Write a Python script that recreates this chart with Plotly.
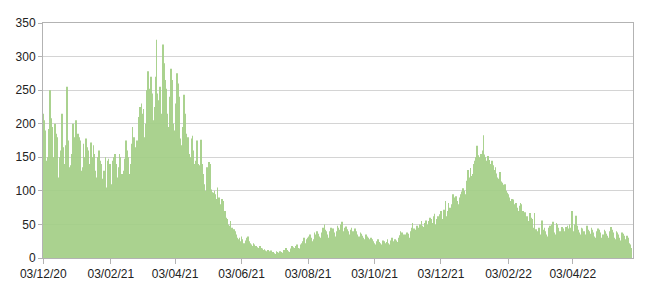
import pandas as pd
import plotly.graph_objects as go

# Daily values, one list per month
dec_2020 = [215, 205, 190, 145, 150, 192, 250, 208, 195, 140, 150, 200, 185, 180, 120, 150, 160, 215, 165, 135,
            140, 168, 255, 175, 135, 138, 155, 200, 180]
jan_2021 = [160, 205, 150, 185, 180, 175, 130, 135, 170, 150, 178, 165, 160, 120, 140, 172, 150, 168, 155, 130,
            120, 150, 160, 145, 140, 118, 100, 130, 150, 105, 145]
feb_2021 = [148, 140, 110, 105, 145, 150, 155, 140, 120, 135, 155, 150, 125, 115, 130, 148, 175, 160, 150, 125,
            140, 170, 195, 180, 165, 150, 175, 165]
mar_2021 = [210, 225, 230, 215, 222, 180, 200, 250, 278, 252, 240, 270, 245, 205, 225, 270, 325, 245, 235, 255,
            215, 200, 318, 290, 265, 252, 215, 195, 240, 282, 265]
apr_2021 = [200, 190, 175, 230, 275, 260, 240, 178, 168, 195, 243, 215, 185, 178, 180, 155, 150, 178, 182, 160,
            140, 145, 175, 140, 130, 138, 176, 140, 125, 110]
may_2021 = [100, 135, 120, 143, 140, 102, 98, 97, 100, 95, 88, 105, 90, 80, 75, 88, 85, 65, 70, 60,
            58, 50, 48, 55, 45, 42, 43, 40, 35, 30, 28]
jun_2021 = [30, 25, 32, 28, 22, 20, 26, 30, 32, 25, 22, 20, 18, 22, 20, 18, 16, 15, 13, 18,
            15, 14, 12, 13, 11, 10, 12, 9, 10, 11]
jul_2021 = [8, 9, 7, 6, 10, 9, 8, 10, 9, 8, 6, 12, 11, 15, 12, 10, 9, 14, 18, 16,
            15, 12, 18, 20, 15, 14, 20, 22, 25, 30, 20]
aug_2021 = [22, 28, 30, 32, 35, 30, 25, 28, 38, 35, 40, 36, 32, 30, 28, 38, 45, 50, 42, 40,
            35, 30, 40, 45, 42, 44, 38, 32, 40, 48, 45]
sep_2021 = [42, 50, 54, 40, 38, 45, 47, 43, 40, 35, 42, 45, 40, 38, 44, 40, 35, 30, 32, 38,
            36, 33, 30, 28, 35, 32, 30, 28, 25, 30]
oct_2021 = [28, 25, 22, 20, 25, 28, 24, 22, 18, 20, 26, 25, 22, 24, 28, 22, 20, 26, 30, 25,
            22, 28, 26, 24, 30, 34, 40, 38, 30, 35, 32]
nov_2021 = [35, 38, 36, 30, 40, 45, 52, 44, 42, 38, 48, 45, 40, 50, 55, 48, 46, 52, 56, 50,
            45, 55, 60, 58, 52, 62, 66, 50, 58, 62]
dec_2021 = [60, 65, 70, 58, 55, 72, 85, 62, 70, 82, 75, 68, 80, 95, 90, 88, 92, 85, 80, 90,
            95, 99, 104, 100, 90, 95, 115, 131, 120, 134, 122]
jan_2022 = [125, 140, 145, 150, 167, 153, 150, 140, 155, 160, 183, 154, 150, 145, 152, 146, 140, 130, 145, 138,
            131, 135, 126, 120, 118, 128, 114, 112, 109, 105, 110]
feb_2022 = [100, 97, 95, 90, 85, 88, 87, 80, 78, 82, 75, 70, 78, 82, 80, 70, 65, 68, 60, 62,
            55, 50, 67, 60, 58, 45, 67, 43]
mar_2022 = [40, 38, 45, 35, 30, 56, 42, 45, 40, 35, 32, 45, 48, 42, 50, 54, 38, 35, 52, 50,
            45, 40, 38, 46, 44, 40, 32, 46, 48, 44, 50]
apr_2022 = [45, 70, 40, 38, 50, 63, 48, 42, 38, 35, 45, 44, 40, 35, 33, 48, 42, 40, 36, 45,
            42, 38, 32, 30, 40, 44, 42, 38, 30, 28]
may_2022 = [35, 42, 40, 36, 33, 30, 40, 46, 42, 38, 30, 28, 40, 38, 35, 30, 26, 38, 36, 33,
            28, 25, 33, 30, 22, 20, 15]

start_date = "2020-12-03"
tick_dates = ["2020-12-03", "2021-02-03", "2021-04-03", "2021-06-03", "2021-08-03",
              "2021-10-03", "2021-12-03", "2022-02-03", "2022-04-03"]
tick_labels = ["03/12/20", "03/02/21", "03/04/21", "03/06/21", "03/08/21",
               "03/10/21", "03/12/21", "03/02/22", "03/04/22"]
y_ticks = [0, 50, 100, 150, 200, 250, 300, 350]

values = (dec_2020 + jan_2021 + feb_2021 + mar_2021 + apr_2021 + may_2021 + jun_2021 + jul_2021 +
          aug_2021 + sep_2021 + oct_2021 + nov_2021 + dec_2021 + jan_2022 + feb_2022 + mar_2022 +
          apr_2022 + may_2022)
dates = pd.date_range(start_date, periods=len(values), freq="D")

fig = go.Figure(go.Bar(
    x=dates, y=values,
    marker=dict(color="#a3cf86", line=dict(width=0)),
    opacity=0.92,
))

font = dict(family="Liberation Sans, Arial, sans-serif", size=12, color="#222222")
fig.update_layout(
    width=650, height=289,
    margin=dict(l=43, r=17, t=23, b=31),
    paper_bgcolor="white", plot_bgcolor="white",
    bargap=0.4, showlegend=False, font=font,
)
fig.update_xaxes(
    type="date", automargin=False,
    range=["2020-12-02T18:00", "2022-05-28T06:00"],
    tickvals=tick_dates, ticktext=tick_labels,
    ticks="outside", ticklen=5, tickcolor="#b3b3b3",
    showline=True, linecolor="#b3b3b3", mirror=True,
    showgrid=False, tickfont=font,
)
fig.update_yaxes(
    range=[0, 350], tickvals=y_ticks, automargin=False,
    ticks="outside", ticklen=4, tickcolor="#b3b3b3",
    showline=True, linecolor="#b3b3b3", mirror=True,
    showgrid=True, gridcolor="#d4d4d4", gridwidth=1,
    zeroline=False, tickfont=font,
)

fig.write_html("out.html")
